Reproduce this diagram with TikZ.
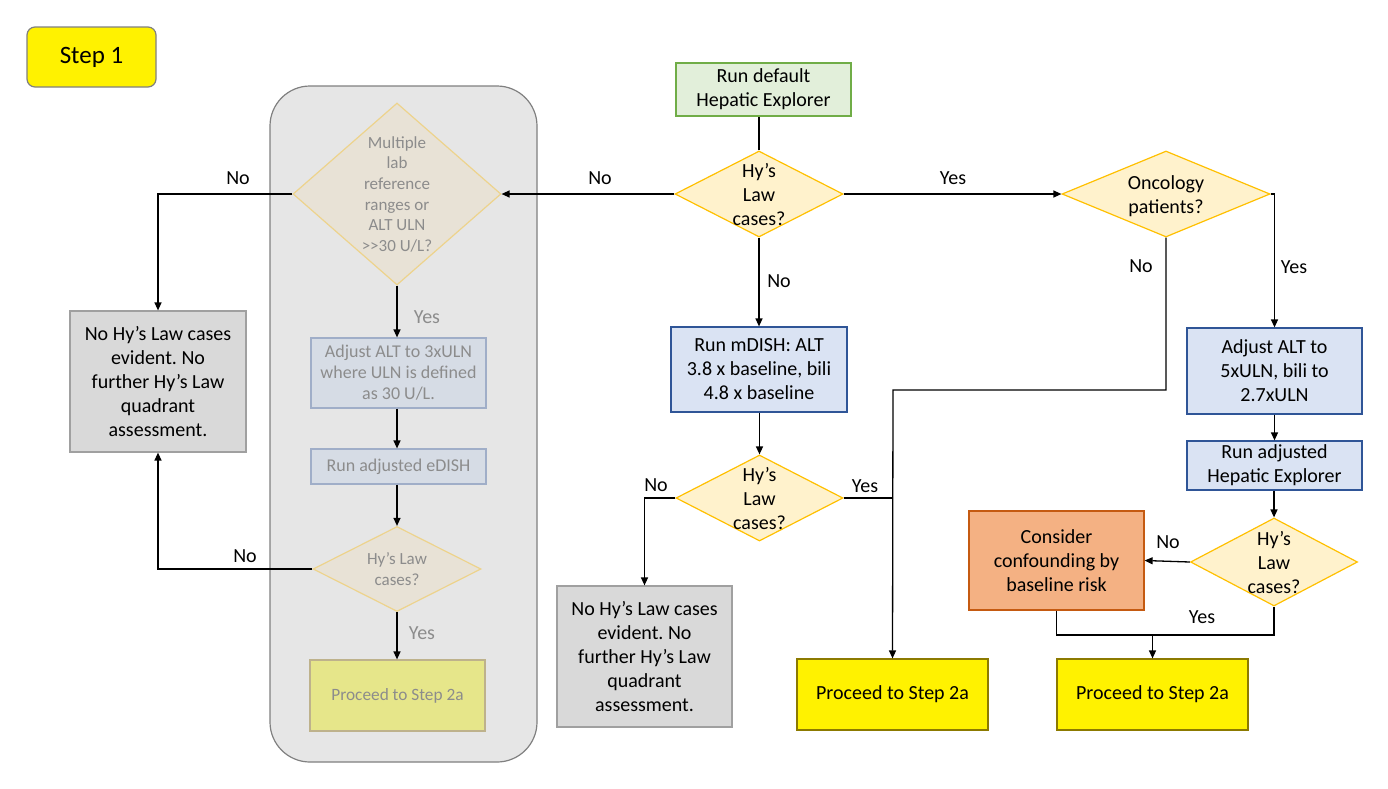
\documentclass[tikz,border=0pt]{standalone}
\usepackage{fontspec}
\setmainfont{Carlito}
\usetikzlibrary{shapes.geometric,arrows.meta}
\frenchspacing
\definecolor{fadetext}{HTML}{8C8C8C}
\definecolor{regionfill}{HTML}{E6E6E6}
\definecolor{regionline}{HTML}{808080}
\definecolor{fadediafill}{HTML}{E8E2D6}
\definecolor{fadedialine}{HTML}{EDD38C}
\definecolor{fadeboxfill}{HTML}{D6DCE5}
\definecolor{fadeboxline}{HTML}{A0AEC8}
\definecolor{fadeprocfill}{HTML}{E6E68A}
\definecolor{fadeprocline}{HTML}{BEB28C}
\definecolor{diafill}{HTML}{FFF2CC}
\definecolor{dialine}{HTML}{FFC000}
\definecolor{bluefill}{HTML}{DAE3F3}
\definecolor{blueline}{HTML}{2F5597}
\definecolor{greenfill}{HTML}{E2EFDA}
\definecolor{greenline}{HTML}{70AD47}
\definecolor{greyfill}{HTML}{D9D9D9}
\definecolor{greyline}{HTML}{A0A0A0}
\definecolor{orangefill}{HTML}{F4B183}
\definecolor{orangeline}{HTML}{C55A11}
\definecolor{procline}{HTML}{8C7A00}
\newcommand{\dtext}[2][-8pt]{\smash{\makebox[0pt]{\raisebox{#1}{\begin{tabular}{@{}c@{}}#2\end{tabular}}}}}
\tikzset{
  x=1pt, y=-1pt,
  basebox/.style={draw, line width=1.2pt, inner sep=0pt, align=center},
  bigtext/.style={font=\fontsize{20}{24}\selectfont},
  smalltext/.style={font=\fontsize{18}{21}\selectfont},
  decision/.style={diamond, draw, line width=1.2pt, fill=diafill, draw=dialine, inner sep=0pt, bigtext},
  fadedecision/.style={diamond, draw, line width=1.2pt, fill=fadediafill, draw=fadedialine, inner sep=0pt, text=fadetext},
  fadebox/.style={basebox, fill=fadeboxfill, draw=fadeboxline, text=fadetext, smalltext},
  bluebox/.style={basebox, fill=bluefill, draw=blueline, bigtext},
  greybox/.style={basebox, fill=greyfill, draw=greyline, bigtext},
  procbox/.style={basebox, fill=yellow, draw=procline, bigtext},
  lbl/.style={inner sep=0pt, bigtext},
  fadelbl/.style={inner sep=0pt, bigtext, text=fadetext},
  conn/.style={line width=1.3pt, draw=black},
  arr/.style={conn, -{Triangle[length=8pt,width=7pt]}},
}
\begin{document}
\begin{tikzpicture}
\useasboundingbox (0,0) rectangle (1388,788);
\fill[white] (0,0) rectangle (1388,788);

% Step 1 tag
\node[basebox, fill=yellow, draw=regionline, rounded corners=8pt, minimum width=129pt, minimum height=60pt, font=\fontsize{25}{28}\selectfont] (step) at (91.5,57) {Step 1};

% faded region
\node[draw=regionline, fill=regionfill, line width=1.2pt, rounded corners=40pt, minimum width=267pt, minimum height=676pt, inner sep=0pt] (region) at (403.5,424) {};

% faded column
\node[fadedecision, minimum width=208pt, minimum height=182pt, font=\fontsize{17}{20.7}\selectfont] (md) at (397,194) {\dtext[-6pt]{Multiple\\lab\\reference\\ranges or\\ALT ULN\\>{}>30 U/L?}};
\node[fadebox, minimum width=175pt, minimum height=70pt] (fadj) at (398.5,373) {Adjust ALT to 3xULN\\where ULN is defined\\as 30 U/L.};
\node[fadebox, minimum width=175pt, minimum height=35pt] (fed) at (398.5,466.5) {Run adjusted eDISH};
\node[fadedecision, minimum width=168pt, minimum height=85pt, font=\fontsize{17}{21}\selectfont] (fhy) at (397,569) {\dtext[-6pt]{Hy’s Law\\cases?}};
\node[basebox, fill=fadeprocfill, draw=fadeprocline, text=fadetext, font=\fontsize{17.3}{21}\selectfont, minimum width=175pt, minimum height=71pt] (fpr) at (397.5,695.5) {Proceed to Step 2a};

% left result
\node[greybox, minimum width=176pt, minimum height=141pt] (nb1) at (158,381.5) {No Hy’s Law cases\\evident. No\\further Hy’s Law\\quadrant\\assessment.};

% centre column
\node[basebox, fill=greenfill, draw=greenline, bigtext, minimum width=175pt, minimum height=53pt] (run) at (763.5,89.5) {Run default\\Hepatic Explorer};
\node[decision, minimum width=168pt, minimum height=86pt] (hy1) at (759,194) {\dtext{Hy’s\\Law\\cases?}};
\node[bluebox, minimum width=176pt, minimum height=85pt] (mdish) at (759,369.5) {Run mDISH: ALT\\3.8 x baseline, bili\\4.8 x baseline};
\node[decision, minimum width=167pt, minimum height=86pt] (hy2) at (759.5,498) {\dtext{Hy’s\\Law\\cases?}};
\node[greybox, minimum width=175pt, minimum height=141pt] (nb2) at (644.5,656.5) {No Hy’s Law cases\\evident. No\\further Hy’s Law\\quadrant\\assessment.};
\node[procbox, minimum width=191pt, minimum height=71pt] (p1) at (892.5,694.5) {Proceed to Step 2a};

% right column
\node[decision, minimum width=208pt, minimum height=86pt] (onc) at (1166,194) {\dtext{Oncology\\patients?}};
\node[bluebox, minimum width=175pt, minimum height=86pt] (adj) at (1274.5,371) {Adjust ALT to\\5xULN, bili to\\2.7xULN};
\node[bluebox, minimum width=175pt, minimum height=49pt] (radj) at (1274.5,465.5) {Run adjusted\\Hepatic Explorer};
\node[decision, minimum width=167pt, minimum height=88pt] (hy3) at (1274,562) {\dtext{Hy’s\\Law\\cases?}};
\node[basebox, fill=orangefill, draw=orangeline, bigtext, minimum width=175pt, minimum height=99pt] (cons) at (1056.5,560.5) {Consider\\confounding by\\baseline risk};
\node[procbox, minimum width=191pt, minimum height=71pt] (p2) at (1152.5,694.5) {Proceed to Step 2a};

% junction points
\coordinate (j1) at (893,390);
\coordinate (j3) at (1152.5,635);

% connectors
\draw[conn] (hy1.north) -- (hy1.north |- run.south);
\draw[arr] (hy1.west) -- (md.east);
\draw[arr] (hy1.east) -- (onc.west);
\draw[arr] (hy1.south) -- (hy1.south |- mdish.north);
\draw[arr] (hy2.north |- mdish.south) -- (hy2.north);
\draw[arr] (hy2.west) -| (nb2.north);
\draw[conn] (hy2.east) -- (hy2.east -| j1);
\draw[arr] (onc.south) |- (j1) -- (p1.north);
\draw[arr] (onc.east) -| (adj.north);
\draw[arr] (adj.south) -- (radj.north);
\draw[arr] (hy3.north |- radj.south) -- (hy3.north);
\draw[arr] (hy3.west) -- (cons.east);
\draw[conn] (cons.south) -- (cons.south |- j3) -- (hy3.south |- j3) -- (hy3.south);
\draw[arr] (j3) -- (p2.north);

\draw[arr] (md.west) -| (nb1.north);
\draw[arr] (md.south) -- (md.south |- fadj.north);
\draw[arr] (md.south |- fadj.south) -- (md.south |- fed.north);
\draw[arr] (fhy.north |- fed.south) -- (fhy.north);
\draw[arr] (fhy.south) -- (fhy.south |- fpr.north);
\draw[arr] (fhy.west) -| (nb1.south);

% labels
\node[lbl] (l1) at (238,178) {No};
\node[lbl] (l2) at (600,178) {No};
\node[lbl] (l3) at (953,178) {Yes};
\node[lbl] (l4) at (779,281) {No};
\node[fadelbl] (l5) at (427,317) {Yes};
\node[lbl] (l6) at (245,556) {No};
\node[fadelbl] (l7) at (422,633) {Yes};
\node[lbl] (l8) at (656,485) {No};
\node[lbl] (l9) at (865,486) {Yes};
\node[lbl] (l10) at (1141,266) {No};
\node[lbl] (l11) at (1294,267) {Yes};
\node[lbl] (l12) at (1168,542) {No};
\node[lbl] (l13) at (1202,617) {Yes};
\end{tikzpicture}
\end{document}
